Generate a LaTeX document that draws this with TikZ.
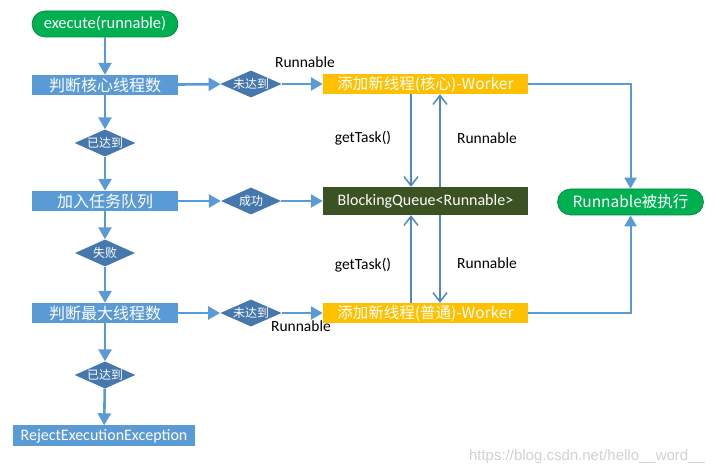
\documentclass[tikz,border=0pt]{standalone}
\usepackage{fontspec}
\setmainfont{Carlito}
\newfontfamily\cjk{Noto Sans CJK SC}
\newfontfamily\markfont{Liberation Sans}
\usetikzlibrary{positioning}
\usetikzlibrary{shapes.geometric}
\usetikzlibrary{arrows.meta}
\definecolor{boxblue}{HTML}{5B9BD5}
\definecolor{diablue}{HTML}{4677AD}
\definecolor{workeryellow}{HTML}{FFC000}
\definecolor{queuegreen}{HTML}{3B5323}
\definecolor{startgreen}{HTML}{00B050}
\definecolor{pullblue}{HTML}{5187C4}
\tikzset{
  every node/.style={
    align=center,
    draw=none,
    inner sep=0pt,
  },
  stepbox/.style={rectangle, fill=boxblue, text=white, minimum width=146pt,
    minimum height=20pt, font=\cjk\fontsize{16}{16}\selectfont},
  choice/.style={diamond, aspect=2.3, fill=diablue, text=white,
    minimum width=60pt, minimum height=27pt, font=\cjk\fontsize{12}{12}\selectfont},
  worker/.style={rectangle, fill=workeryellow, text=white, minimum width=205pt,
    minimum height=20pt, font=\cjk\fontsize{15.5}{15.5}\selectfont},
  queuebox/.style={rectangle, fill=queuegreen, text=white, minimum width=205pt,
    minimum height=28pt, font=\fontsize{16}{16}\selectfont},
  endpoint/.style={rectangle, rounded corners=13pt, fill=startgreen,
    draw=startgreen!75!black, line width=0.6pt, text=white,
    minimum width=146pt, minimum height=26pt},
  tag/.style={text=black, font=\fontsize{15.5}{15.5}\selectfont},
  flow/.style={draw=boxblue, line width=2.6pt,
    -{Triangle[length=12pt,width=13pt]}},
  done/.style={draw=boxblue, line width=2pt,
    -{Triangle[length=11pt,width=12pt]}},
  pull/.style={draw=pullblue, line width=1.5pt,
    -{Straight Barb[length=9pt,width=14pt]}},
}

\begin{document}
\begin{tikzpicture}[x=1pt,y=-1pt]
  \useasboundingbox (0,0) rectangle (721,470);
  % left column
  \node[endpoint, font=\fontsize{16.5}{16.5}\selectfont] (exec) at (105,24) {execute(runnable)};
  \node[stepbox] (core) at (105,85) {判断核心线程数};
  \node[choice] (coreok) at (105,143) {已达到};
  \node[stepbox] (enqueue) at (105,201) {加入任务队列};
  \node[choice] (fail) at (105,253) {失败};
  \node[stepbox] (max) at (105,313) {判断最大线程数};
  \node[choice] (maxok) at (105,375) {已达到};
  \node[stepbox, minimum width=182pt, minimum height=21pt,
    font=\fontsize{16}{16}\selectfont] (reject) at (104,436) {RejectExecutionException};
  % middle column
  \node[choice] (corenot) at (251,84) {未达到};
  \node[choice] (ok) at (251,201) {成功};
  \node[choice] (maxnot) at (251,313) {未达到};
  \node[worker] (wcore) at (425.5,84) {添加新线程(核心)-Worker};
  \node[queuebox] (queue) at (425.5,201) {BlockingQueue<Runnable>};
  \node[worker] (wmax) at (425.5,313) {添加新线程(普通)-Worker};
  \node[endpoint, font=\cjk\fontsize{15.5}{15.5}\selectfont] (run) at (630.5,202) {Runnable被执行};
  % labels
  \node[tag] (lbl1) at (305,62) {Runnable};
  \node[tag] (lbl2) at (301,326) {Runnable};
  \node[tag] (get1) at (363,138) {getTask()};
  \node[tag] (give1) at (487,138) {Runnable};
  \node[tag] (get2) at (363,265) {getTask()};
  \node[tag] (give2) at (487,263) {Runnable};
  \node[text=black!18, font=\markfont\fontsize{15}{15}\selectfont] (mark) at (587,457)
    {https://blog.csdn.net/hello\_\_word\_\_};

  \draw[flow] (exec) -- (core);
  \draw[flow] (core) -- (coreok);
  \draw[flow] (coreok) -- (enqueue);
  \draw[flow] (enqueue) -- (fail);
  \draw[flow] (fail) -- (max);
  \draw[flow] (max) -- (maxok);
  \draw[flow] (maxok) -- (reject);
  \draw[flow] (core) -- (corenot);
  \draw[flow] (corenot) -- (wcore);
  \draw[flow] (enqueue) -- (ok);
  \draw[flow] (ok) -- (queue);
  \draw[flow] (max) -- (maxnot);
  \draw[flow] (maxnot) -- (wmax);

  \draw[pull] ([xshift=-14.5pt]wcore.south) -- ([xshift=-14.5pt]queue.north);
  \draw[pull] ([xshift=14.5pt]queue.north) -- ([xshift=14.5pt]wcore.south);
  \draw[pull] ([xshift=-14.5pt]wmax.north) -- ([xshift=-14.5pt]queue.south);
  \draw[pull] ([xshift=14.5pt]queue.south) -- ([xshift=14.5pt]wmax.north);

  \draw[done] (wcore.east) -| (run.north);
  \draw[done] (wmax.east) -| (run.south);
\end{tikzpicture}
\end{document}
